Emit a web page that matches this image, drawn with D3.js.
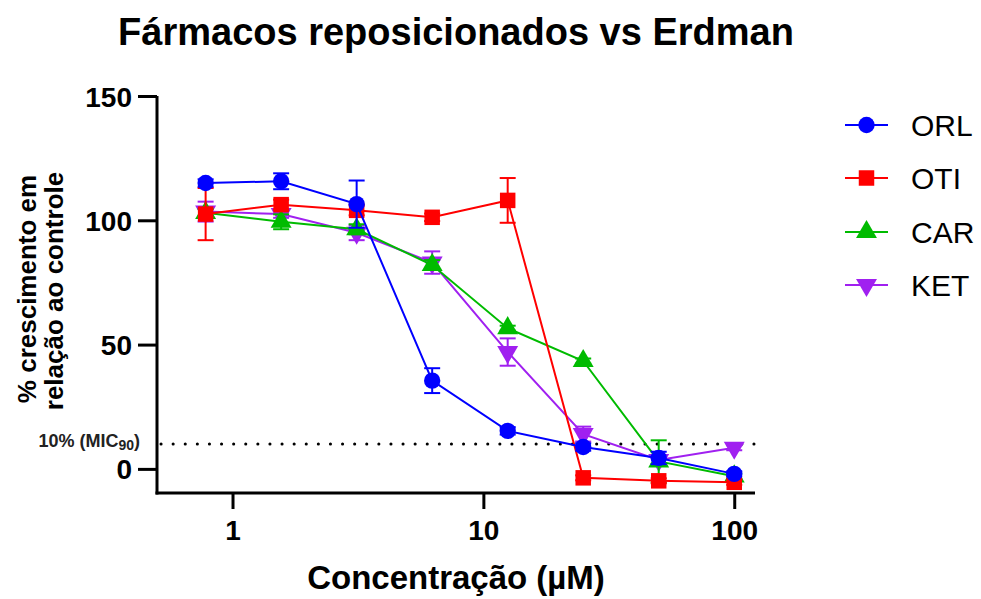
<!DOCTYPE html>
<html>
<head>
<meta charset="utf-8">
<script src="https://cdn.jsdelivr.net/npm/d3@7"></script>
<style>
  html, body { margin: 0; padding: 0; background: #fff; }
  svg { display: block; font-family: "Liberation Sans", Arial, sans-serif; }
</style>
</head>
<body>
<svg id="chart" width="981" height="599"></svg>
<script>
// Concentrations (µM), two-fold dilution series
const concentrations = [0.78125, 1.5625, 3.125, 6.25, 12.5, 25, 50, 100];

const seriesNames = ["ORL", "OTI", "CAR", "KET"];
const seriesColors = ["#0000ff", "#ff0000", "#00bb00", "#a020f0"];
const seriesSymbols = ["circle", "square", "triangle", "triangleDown"];

// % growth relative to control (mean) and error (SD)
const orlMean = [115, 115.7, 106.5, 35.5, 15.3, 8.8, 4.4, -2];
const orlErr  = [1.5, 3.2, 9.5, 5, 1.5, 1.5, 2.5, 1];
const otiMean = [102.5, 106.3, 104, 101.2, 108, -3.6, -4.8, -5.4];
const otiErr  = [10.5, 2, 2, 1.5, 9, 1, 1, 1];
const carMean = [103, 99.4, 96.4, 82, 56.6, 43.4, 3, -3];
const carErr  = [1.5, 3, 2, 2, 1, 1, 8.5, 1];
const ketMean = [103.5, 102.5, 95, 83, 47, 14, 3.6, 8.5];
const ketErr  = [4, 1.5, 3, 4.5, 5.5, 3, 1.5, 1];

const yTicks = [0, 50, 100, 150];
const xTicks = [1, 10, 100];
const micLevel = 10;

const means = [orlMean, otiMean, carMean, ketMean];
const errs = [orlErr, otiErr, carErr, ketErr];

const svg = d3.select("#chart");

const plot = { left: 157, right: 755, top: 96, bottom: 493 };

const x = d3.scaleLog().domain([0.5, 121]).range([plot.left, plot.right]);
const y = d3.scaleLinear().domain([-9.7, 150]).range([plot.bottom, plot.top]);

// Title
svg.append("text")
  .attr("x", 456).attr("y", 45)
  .attr("text-anchor", "middle")
  .attr("font-size", 38).attr("font-weight", "bold")
  .text("Fármacos reposicionados vs Erdman");

// Axes
const yAxis = svg.append("g")
  .attr("transform", `translate(${plot.left},0)`)
  .call(d3.axisLeft(y).tickValues(yTicks).tickSize(19).tickPadding(6).tickSizeOuter(0));
const xAxis = svg.append("g")
  .attr("transform", `translate(0,${plot.bottom})`)
  .call(d3.axisBottom(x).tickValues(xTicks).tickFormat(d3.format("d")).tickSize(16).tickPadding(11).tickSizeOuter(0));

[yAxis, xAxis].forEach(g => {
  g.select(".domain").attr("stroke", "#000").attr("stroke-width", 3);
  g.selectAll(".tick line").attr("stroke", "#000").attr("stroke-width", 3);
  g.selectAll(".tick text")
    .attr("fill", "#000")
    .attr("font-size", 28).attr("font-weight", "bold")
    .attr("font-family", "Liberation Sans, Arial, sans-serif");
});
yAxis.selectAll(".tick text").attr("dy", "0.36em");
// Extend the axis lines so they meet at the corner
yAxis.select(".domain").attr("d", `M0,${plot.top}V${plot.bottom + 1.5}`);
xAxis.select(".domain").attr("d", `M${plot.left - 1.5},0H${plot.right}`);

// MIC90 reference line
svg.append("line")
  .attr("x1", plot.left + 4).attr("x2", plot.right)
  .attr("y1", y(micLevel)).attr("y2", y(micLevel))
  .attr("stroke", "#000").attr("stroke-width", 3)
  .attr("stroke-linecap", "round")
  .attr("stroke-dasharray", "0.1 12");

const micLabel = svg.append("text")
  .attr("x", 140).attr("y", y(micLevel) + 3)
  .attr("text-anchor", "end")
  .attr("font-size", 18).attr("font-weight", "bold")
  .attr("fill", "#222");
micLabel.append("tspan").text("10% (MIC");
micLabel.append("tspan").attr("font-size", 14).attr("dy", 3).text("90");
micLabel.append("tspan").attr("dy", -3).text(")");

// Axis titles
svg.append("text")
  .attr("transform", "translate(36,289) rotate(-90)")
  .attr("text-anchor", "middle")
  .attr("font-size", 26).attr("font-weight", "bold")
  .text("% crescimento em");
svg.append("text")
  .attr("transform", "translate(63,291) rotate(-90)")
  .attr("text-anchor", "middle")
  .attr("font-size", 26).attr("font-weight", "bold")
  .text("relação ao controle");
svg.append("text")
  .attr("x", 456).attr("y", 589)
  .attr("text-anchor", "middle")
  .attr("font-size", 33).attr("font-weight", "bold")
  .text("Concentração (µM)");

const symbolTypes = {
  circle: { type: d3.symbolCircle, size: 210, rot: 0 },
  square: { type: d3.symbolSquare, size: 240, rot: 0 },
  triangle: { type: d3.symbolTriangle, size: 190, rot: 0 },
  triangleDown: { type: d3.symbolTriangle, size: 190, rot: 180 }
};

function drawMarker(g, name, cx, cy, color) {
  const s = symbolTypes[name];
  g.append("path")
    .attr("d", d3.symbol().type(s.type).size(s.size)())
    .attr("transform", `translate(${cx},${cy}) rotate(${s.rot})`)
    .attr("fill", color);
}

const line = d3.line().x(d => x(d.c)).y(d => y(d.v));

// Draw in reverse order so ORL ends up on top
for (let i = seriesNames.length - 1; i >= 0; i--) {
  const color = seriesColors[i];
  const data = concentrations.map((c, j) => ({ c, v: means[i][j], e: errs[i][j] }));
  const g = svg.append("g");

  // Error bars
  data.forEach(d => {
    const cx = x(d.c);
    const y1 = y(d.v + d.e), y2 = y(d.v - d.e);
    g.append("line").attr("x1", cx).attr("x2", cx).attr("y1", y1).attr("y2", y2)
      .attr("stroke", color).attr("stroke-width", 2);
    [y1, y2].forEach(yy => g.append("line")
      .attr("x1", cx - 8).attr("x2", cx + 8).attr("y1", yy).attr("y2", yy)
      .attr("stroke", color).attr("stroke-width", 2));
  });

  g.append("path").datum(data)
    .attr("d", line)
    .attr("fill", "none").attr("stroke", color).attr("stroke-width", 2);

  data.forEach(d => drawMarker(g, seriesSymbols[i], x(d.c), y(d.v), color));
}

// Legend
const legendY = [125, 178, 232, 285];
seriesNames.forEach((name, i) => {
  const g = svg.append("g");
  g.append("line")
    .attr("x1", 845).attr("x2", 888)
    .attr("y1", legendY[i]).attr("y2", legendY[i])
    .attr("stroke", seriesColors[i]).attr("stroke-width", 2);
  drawMarker(g, seriesSymbols[i], 866.5, legendY[i], seriesColors[i]);
  g.append("text")
    .attr("x", 911).attr("y", legendY[i] + 11)
    .attr("font-size", 30)
    .attr("fill", "#000")
    .text(name);
});
</script>
</body>
</html>
